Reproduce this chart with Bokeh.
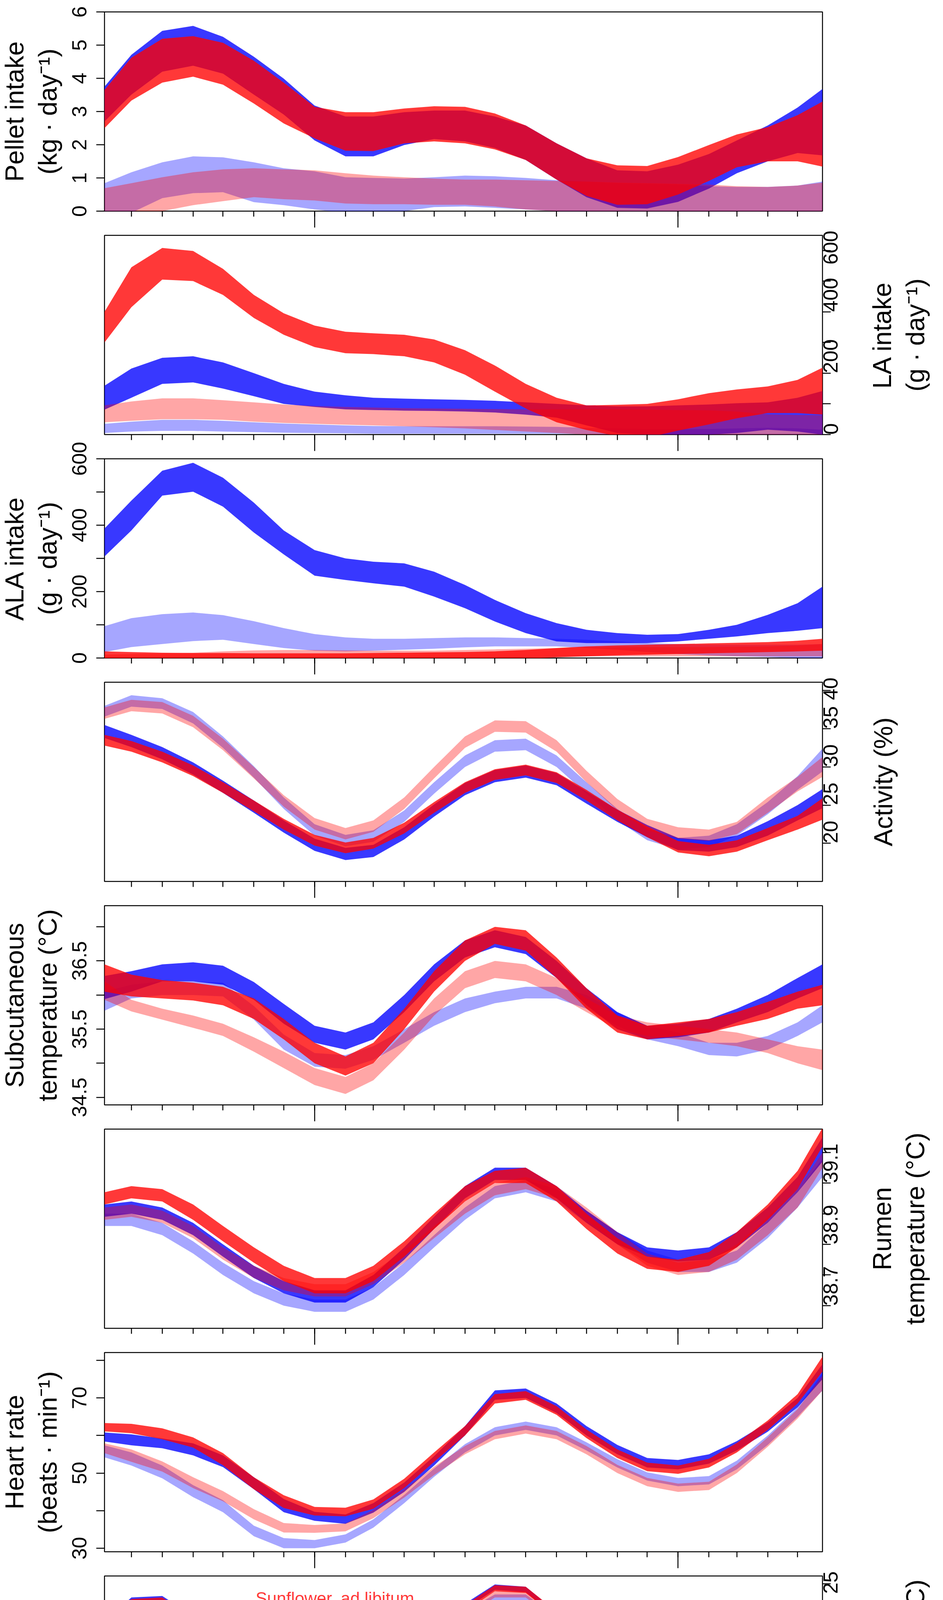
import math
import pandas as pd
from bokeh.plotting import figure
from bokeh.layouts import column, row
from bokeh.models import FixedTicker, LinearAxis, Range1d, Label
from bokeh.core.properties import value
from bokeh.embed import file_html
from bokeh.resources import INLINE

# ---------------------------------------------------------------- data
DATES = ["2017-06-04", "2017-07-01", "2017-08-01", "2017-09-01", "2017-10-01",
         "2017-11-01", "2017-12-01", "2018-01-01", "2018-02-01", "2018-03-01",
         "2018-04-01", "2018-05-01", "2018-06-01", "2018-07-01", "2018-08-01",
         "2018-09-01", "2018-10-01", "2018-11-01", "2018-12-01", "2019-01-01",
         "2019-02-01", "2019-03-01", "2019-04-01", "2019-05-01", "2019-05-26"]
X_START = "2017-06-04"
X_END = "2019-05-26"
MONTH_NAMES = ["Jun", "Jul", "Aug", "Sep", "Oct", "Nov", "Dec", "Jan", "Feb", "Mar", "Apr", "May",
               "Jun", "Jul", "Aug", "Sep", "Oct", "Nov", "Dec", "Jan", "Feb", "Mar", "Apr", "May"]
YEAR_LABELS = ["2017", "2018", "2019"]
YEAR_LABEL_DATES = ["2017-09-01", "2018-06-29", "2019-03-26"]
LEGEND_LABELS = ["Sunflower, ad libitum", "Sunflower, restricted",
                 "Linseed, ad libitum,", "Linseed, restricted"]

# Pellet intake (kg/day)
PEL_LIN_AD_LO = [2.70, 3.51, 4.20, 4.38, 4.14, 3.51, 2.91, 2.13, 1.65, 1.65, 1.99, 2.17, 2.10, 1.90, 1.54, 0.95, 0.42, 0.10, 0.08, 0.28, 0.68, 1.14, 1.50, 1.75, 1.68]
PEL_LIN_AD_HI = [3.75, 4.71, 5.43, 5.58, 5.25, 4.65, 3.99, 3.18, 2.85, 2.85, 2.98, 3.03, 3.03, 2.85, 2.58, 2.04, 1.59, 1.23, 1.20, 1.40, 1.72, 2.13, 2.58, 3.12, 3.68]
PEL_SUN_AD_LO = [2.50, 3.33, 3.87, 4.05, 3.81, 3.24, 2.64, 2.19, 1.82, 1.81, 2.04, 2.10, 2.04, 1.86, 1.54, 0.95, 0.46, 0.19, 0.21, 0.50, 0.91, 1.32, 1.50, 1.50, 1.34]
PEL_SUN_AD_HI = [3.65, 4.62, 5.19, 5.27, 5.07, 4.53, 3.87, 3.14, 2.98, 2.98, 3.09, 3.16, 3.14, 2.94, 2.58, 2.04, 1.59, 1.38, 1.36, 1.63, 1.99, 2.31, 2.53, 2.89, 3.30]
PEL_LIN_RE_LO = [-0.30, -0.05, 0.39, 0.54, 0.57, 0.27, 0.18, 0.05, -0.05, -0.05, 0.00, 0.12, 0.14, 0.10, 0.05, 0.00, -0.04, -0.10, -0.15, -0.15, -0.15, -0.15, -0.15, -0.15, -0.20]
PEL_LIN_RE_HI = [0.84, 1.17, 1.47, 1.65, 1.62, 1.47, 1.29, 1.20, 1.02, 1.00, 0.98, 1.02, 1.07, 1.05, 1.00, 0.93, 0.89, 0.84, 0.82, 0.80, 0.75, 0.73, 0.73, 0.77, 0.89]
PEL_SUN_RE_LO = [-0.50, -0.20, 0.00, 0.18, 0.30, 0.42, 0.36, 0.32, 0.23, 0.21, 0.21, 0.19, 0.19, 0.14, 0.05, 0.00, 0.00, -0.05, -0.10, -0.10, -0.10, -0.10, -0.10, -0.10, -0.10]
PEL_SUN_RE_HI = [0.69, 0.84, 1.02, 1.17, 1.26, 1.29, 1.26, 1.23, 1.14, 1.07, 1.02, 0.98, 0.95, 0.95, 0.93, 0.91, 0.89, 0.86, 0.84, 0.82, 0.80, 0.75, 0.73, 0.77, 0.86]

# LA intake (g/day)
LA_LIN_AD_LO = [81, 120, 165, 170, 150, 125, 100, 90, 82, 80, 78, 77, 75, 72, 65, 55, 30, 5, 0, 0, 0, 5, 16, 10, 0]
LA_LIN_AD_HI = [159, 215, 250, 255, 235, 200, 165, 140, 128, 120, 117, 115, 113, 110, 105, 100, 95, 92, 92, 95, 98, 102, 105, 120, 142]
LA_SUN_AD_LO = [300, 415, 505, 500, 455, 380, 325, 285, 265, 262, 255, 235, 195, 140, 85, 40, 15, -5, -10, 13, 33, 53, 70, 70, 65]
LA_SUN_AD_HI = [400, 545, 608, 598, 540, 455, 395, 355, 335, 330, 325, 310, 275, 225, 165, 120, 95, 97, 100, 115, 135, 147, 157, 178, 218]
LA_LIN_RE_LO = [5, 10, 12, 12, 10, 8, 6, 5, 4, 3, 3, 3, 3, 3, 3, 3, 2, 0, -5, -5, -5, -5, -5, -5, -5]
LA_LIN_RE_HI = [35, 42, 48, 48, 45, 40, 36, 33, 30, 28, 27, 27, 27, 27, 26, 25, 22, 20, 18, 18, 18, 20, 22, 20, 16]
LA_SUN_RE_LO = [40, 45, 50, 50, 48, 42, 38, 35, 32, 30, 27, 24, 20, 15, 10, 5, 0, -5, -5, -5, -5, -5, -5, -5, -5]
LA_SUN_RE_HI = [95, 108, 118, 118, 112, 105, 98, 93, 90, 88, 86, 85, 84, 83, 82, 82, 82, 82, 81, 80, 79, 75, 66, 64, 63]

# ALA intake (g/day)
ALA_LIN_AD_LO = [306, 384, 489, 501, 456, 378, 312, 248, 235, 225, 215, 185, 150, 110, 75, 50, 45, 45, 45, 50, 58, 65, 75, 82, 90]
ALA_LIN_AD_HI = [390, 474, 564, 588, 543, 468, 384, 325, 300, 290, 285, 260, 220, 175, 135, 105, 85, 75, 70, 72, 85, 100, 130, 165, 215]
ALA_LIN_RE_LO = [18, 33, 42, 51, 55, 42, 30, 22, 20, 22, 25, 28, 32, 35, 35, 35, 30, 25, 18, 12, 8, 5, 3, 0, -5]
ALA_LIN_RE_HI = [96, 120, 132, 137, 129, 111, 90, 72, 62, 58, 58, 60, 62, 62, 60, 58, 55, 50, 45, 42, 40, 40, 40, 40, 42]
ALA_SUN_RE_LO = [-5, -5, -5, -5, -5, -5, -5, -5, -5, -5, -5, -5, -3, 0, 2, 4, 5, 5, 5, 5, 5, 5, 5, 5, 5]
ALA_SUN_RE_HI = [10, 12, 14, 16, 20, 23, 24, 24, 23, 22, 22, 22, 24, 26, 28, 30, 32, 33, 33, 33, 33, 34, 35, 38, 42]
ALA_SUN_AD_LO = [-5, -5, -5, -5, -5, -5, -5, -5, -5, -5, -5, -5, -5, -5, -3, 2, 5, 8, 10, 12, 14, 16, 18, 20, 22]
ALA_SUN_AD_HI = [20, 18, 16, 15, 15, 14, 14, 14, 14, 15, 16, 17, 18, 20, 24, 30, 35, 38, 40, 42, 44, 46, 48, 52, 58]

# Activity (%)
ACT_LIN_AD_LO = [33.8, 32.6, 31.0, 29.0, 26.6, 24.0, 21.4, 19.0, 17.8, 18.2, 20.5, 23.5, 26.3, 28.0, 28.6, 27.6, 25.2, 22.8, 20.8, 19.1, 18.9, 19.5, 21.0, 23.0, 24.6]
ACT_LIN_AD_HI = [35.5, 34.2, 32.6, 30.6, 28.2, 25.6, 23.0, 20.6, 19.4, 19.8, 22.1, 25.1, 27.9, 29.6, 30.2, 29.2, 26.8, 24.4, 22.4, 20.7, 20.4, 21.0, 22.9, 25.0, 27.1]
ACT_LIN_RE_LO = [36.6, 37.9, 37.6, 35.7, 32.5, 28.6, 24.5, 21.0, 19.6, 20.2, 22.8, 26.5, 30.0, 32.0, 32.2, 30.0, 26.5, 23.0, 20.4, 19.2, 19.5, 21.0, 23.8, 27.0, 29.4]
ACT_LIN_RE_HI = [38.0, 39.4, 39.0, 37.2, 34.0, 30.1, 26.0, 22.5, 21.1, 21.7, 24.3, 28.0, 31.5, 33.5, 33.7, 31.5, 28.0, 24.5, 21.9, 20.7, 21.0, 22.5, 25.4, 28.8, 32.4]
ACT_SUN_RE_LO = [36.3, 37.3, 37.0, 35.2, 32.2, 28.5, 24.8, 21.8, 20.5, 21.5, 24.5, 28.5, 32.5, 34.6, 34.5, 32.0, 28.0, 24.3, 21.7, 20.6, 20.3, 21.2, 24.0, 26.8, 28.7]
ACT_SUN_RE_HI = [37.8, 38.8, 38.5, 36.7, 33.7, 30.0, 26.3, 23.3, 22.0, 23.0, 26.0, 30.0, 34.0, 36.1, 36.0, 33.5, 29.5, 25.8, 23.2, 22.1, 21.8, 22.8, 26.0, 28.7, 31.3]
ACT_SUN_AD_LO = [32.8, 32.0, 30.6, 28.8, 26.6, 24.2, 21.8, 19.7, 18.7, 19.3, 21.3, 24.0, 26.6, 28.3, 28.9, 27.9, 25.6, 23.0, 20.8, 18.8, 18.3, 18.9, 20.4, 21.8, 23.1]
ACT_SUN_AD_HI = [34.2, 33.4, 32.0, 30.2, 28.0, 25.6, 23.2, 21.1, 20.1, 20.7, 22.7, 25.4, 28.0, 29.7, 30.3, 29.3, 27.0, 24.4, 22.2, 20.3, 19.8, 20.4, 22.0, 23.6, 25.9]

# Subcutaneous temperature (degC)
SUB_LIN_AD_LO = [35.94, 36.05, 36.20, 36.20, 36.15, 35.93, 35.58, 35.30, 35.20, 35.35, 35.75, 36.20, 36.55, 36.70, 36.60, 36.25, 35.85, 35.50, 35.35, 35.38, 35.45, 35.60, 35.75, 35.95, 36.10]
SUB_LIN_AD_HI = [36.28, 36.35, 36.45, 36.48, 36.43, 36.19, 35.87, 35.55, 35.45, 35.60, 36.00, 36.45, 36.80, 36.95, 36.85, 36.50, 36.10, 35.75, 35.55, 35.58, 35.65, 35.80, 36.00, 36.25, 36.45]
SUB_LIN_RE_LO = [35.77, 35.95, 36.00, 36.00, 35.98, 35.64, 35.20, 34.95, 34.92, 35.05, 35.30, 35.55, 35.75, 35.88, 35.95, 35.95, 35.80, 35.55, 35.35, 35.25, 35.12, 35.10, 35.20, 35.40, 35.60]
SUB_LIN_RE_HI = [36.05, 36.15, 36.20, 36.20, 36.18, 35.84, 35.42, 35.15, 35.12, 35.25, 35.50, 35.75, 35.95, 36.05, 36.12, 36.12, 36.00, 35.75, 35.55, 35.45, 35.30, 35.30, 35.40, 35.60, 35.85]
SUB_SUN_RE_LO = [35.93, 35.76, 35.64, 35.52, 35.40, 35.17, 34.93, 34.68, 34.55, 34.75, 35.20, 35.70, 36.10, 36.25, 36.20, 36.00, 35.75, 35.50, 35.40, 35.35, 35.30, 35.25, 35.15, 35.00, 34.90]
SUB_SUN_RE_HI = [36.20, 35.93, 35.80, 35.70, 35.58, 35.38, 35.17, 34.93, 34.80, 35.00, 35.45, 35.95, 36.35, 36.50, 36.45, 36.25, 35.95, 35.70, 35.60, 35.55, 35.50, 35.45, 35.35, 35.25, 35.20]
SUB_SUN_AD_LO = [36.05, 35.98, 35.95, 35.92, 35.85, 35.65, 35.35, 35.00, 34.82, 35.00, 35.50, 36.05, 36.50, 36.75, 36.65, 36.25, 35.80, 35.45, 35.35, 35.40, 35.45, 35.55, 35.65, 35.80, 35.85]
SUB_SUN_AD_HI = [36.45, 36.30, 36.22, 36.18, 36.12, 35.95, 35.65, 35.30, 35.10, 35.30, 35.80, 36.35, 36.80, 37.00, 36.95, 36.55, 36.10, 35.70, 35.55, 35.60, 35.65, 35.75, 35.90, 36.05, 36.15]

# Rumen temperature (degC)
RUM_LIN_AD_LO = [38.99, 39.00, 38.98, 38.93, 38.86, 38.79, 38.74, 38.71, 38.71, 38.76, 38.85, 38.95, 39.05, 39.11, 39.11, 39.05, 38.97, 38.90, 38.86, 38.845, 38.85, 38.89, 38.97, 39.07, 39.17]
RUM_LIN_AD_HI = [39.03, 39.04, 39.02, 38.97, 38.90, 38.83, 38.78, 38.75, 38.75, 38.80, 38.89, 38.99, 39.09, 39.15, 39.15, 39.09, 39.01, 38.94, 38.89, 38.88, 38.89, 38.94, 39.02, 39.12, 39.25]
RUM_LIN_RE_LO = [38.96, 38.96, 38.93, 38.87, 38.80, 38.74, 38.70, 38.68, 38.68, 38.72, 38.80, 38.89, 38.98, 39.05, 39.07, 39.04, 38.97, 38.90, 38.84, 38.81, 38.81, 38.84, 38.92, 39.02, 39.12]
RUM_LIN_RE_HI = [39.00, 39.00, 38.97, 38.91, 38.84, 38.78, 38.74, 38.72, 38.72, 38.76, 38.84, 38.93, 39.02, 39.09, 39.11, 39.08, 39.01, 38.94, 38.88, 38.85, 38.85, 38.88, 38.97, 39.07, 39.18]
RUM_SUN_RE_LO = [38.98, 38.99, 38.97, 38.92, 38.85, 38.79, 38.75, 38.73, 38.73, 38.77, 38.84, 38.92, 39.00, 39.06, 39.08, 39.05, 38.98, 38.90, 38.83, 38.80, 38.81, 38.85, 38.93, 39.02, 39.15]
RUM_SUN_RE_HI = [39.02, 39.03, 39.01, 38.96, 38.89, 38.83, 38.79, 38.77, 38.77, 38.81, 38.88, 38.96, 39.04, 39.10, 39.12, 39.09, 39.02, 38.94, 38.87, 38.84, 38.85, 38.90, 38.99, 39.08, 39.20]
RUM_SUN_AD_LO = [39.03, 39.05, 39.04, 38.98, 38.91, 38.84, 38.78, 38.74, 38.74, 38.78, 38.86, 38.95, 39.04, 39.10, 39.10, 39.04, 38.95, 38.87, 38.82, 38.81, 38.83, 38.89, 38.98, 39.08, 39.22]
RUM_SUN_AD_HI = [39.07, 39.09, 39.08, 39.03, 38.96, 38.89, 38.83, 38.79, 38.79, 38.83, 38.91, 39.00, 39.09, 39.14, 39.15, 39.09, 39.00, 38.92, 38.86, 38.85, 38.875, 38.94, 39.03, 39.14, 39.28]

# Heart rate (beats/min)
HR_LIN_AD_LO = [58.4, 57.4, 56.6, 54.7, 51.6, 45.7, 39.6, 37.3, 36.5, 39.5, 45.0, 52.0, 60.0, 69.5, 70.0, 66.0, 60.0, 55.0, 51.5, 51.0, 52.5, 56.0, 61.0, 67.5, 75.0]
HR_LIN_AD_HI = [60.8, 60.3, 59.2, 57.9, 54.7, 48.9, 43.1, 39.7, 39.0, 42.0, 47.5, 54.5, 62.5, 72.0, 72.5, 68.5, 62.5, 57.5, 54.0, 53.5, 55.0, 58.5, 63.5, 70.0, 79.0]
HR_LIN_RE_LO = [54.2, 52.0, 48.6, 43.6, 39.6, 33.2, 30.0, 30.0, 31.5, 35.5, 42.0, 49.0, 55.5, 60.0, 61.5, 60.0, 56.0, 51.5, 48.0, 46.5, 47.0, 51.0, 57.5, 65.0, 72.0]
HR_LIN_RE_HI = [57.4, 55.5, 52.0, 46.8, 42.8, 36.0, 32.7, 32.2, 33.7, 37.7, 44.2, 51.2, 57.7, 62.2, 63.7, 62.2, 58.2, 53.7, 50.2, 48.7, 49.2, 53.3, 60.0, 67.5, 76.5]
HR_SUN_RE_LO = [55.3, 53.0, 50.4, 46.0, 42.5, 37.7, 34.2, 34.1, 34.5, 38.0, 43.5, 49.5, 55.0, 59.0, 60.5, 59.0, 55.0, 50.0, 46.5, 45.0, 45.5, 50.0, 57.0, 64.5, 72.0]
HR_SUN_RE_HI = [57.9, 56.3, 53.1, 48.9, 45.2, 40.4, 36.7, 36.2, 36.6, 40.2, 45.7, 51.7, 57.2, 61.2, 62.7, 61.2, 57.2, 52.2, 48.7, 47.2, 47.7, 52.3, 59.5, 67.0, 76.0]
HR_SUN_AD_LO = [61.1, 60.6, 59.0, 56.8, 52.1, 45.7, 40.7, 38.7, 38.5, 40.5, 46.0, 53.0, 60.0, 68.5, 69.5, 65.5, 59.3, 54.0, 50.5, 49.8, 51.5, 55.5, 61.5, 68.5, 77.0]
HR_SUN_AD_HI = [63.3, 63.1, 61.9, 59.5, 55.3, 48.9, 44.1, 41.0, 40.8, 43.0, 48.5, 55.5, 62.5, 71.0, 71.8, 67.8, 61.6, 56.3, 52.8, 52.0, 53.8, 58.0, 64.0, 71.0, 81.0]

# Collar temperature (degC)
COL_LIN_AD_LO = [19.5, 22.5, 22.7, 20.1, 15.3, 9.8, 5.2, 2.6, 2.8, 5.8, 10.9, 16.7, 21.7, 24.2, 23.9, 20.6, 15.5, 10.2, 5.8, 3.8, 4.3, 6.8, 10.6, 14.8, 17.8]
COL_LIN_AD_HI = [20.1, 23.2, 23.4, 20.8, 16.0, 10.5, 5.9, 3.2, 3.4, 6.5, 11.6, 17.4, 22.4, 24.9, 24.6, 21.3, 16.2, 10.9, 6.5, 4.5, 5.0, 7.4, 11.2, 15.5, 18.5]
COL_LIN_RE_LO = [18.5, 21.6, 21.8, 19.2, 14.4, 9.1, 4.6, 2.2, 2.4, 5.3, 10.1, 15.6, 20.6, 22.8, 22.8, 19.9, 15.0, 9.9, 5.5, 3.4, 3.8, 6.2, 10.0, 14.3, 17.4]
COL_LIN_RE_HI = [19.3, 22.4, 22.6, 20.0, 15.2, 9.9, 5.4, 3.0, 3.2, 6.1, 10.9, 16.4, 21.4, 23.6, 23.6, 20.7, 15.8, 10.7, 6.3, 4.2, 4.6, 7.0, 10.8, 15.1, 18.2]
COL_SUN_RE_LO = [18.9, 21.8, 22.0, 19.4, 14.6, 9.2, 4.7, 2.0, 2.3, 5.3, 10.2, 15.8, 20.8, 23.2, 23.2, 20.3, 15.5, 10.5, 6.1, 4.0, 4.3, 6.7, 10.5, 14.8, 17.8]
COL_SUN_RE_HI = [19.6, 22.6, 22.8, 20.2, 15.4, 10.0, 5.5, 2.8, 3.1, 6.1, 11.0, 16.6, 21.6, 24.0, 24.0, 21.1, 16.3, 11.3, 6.9, 4.8, 5.1, 7.5, 11.3, 15.6, 18.6]
COL_SUN_AD_LO = [19.2, 22.2, 22.4, 19.8, 15.0, 9.6, 5.1, 2.5, 2.6, 5.6, 10.6, 16.4, 21.4, 24.0, 23.8, 20.6, 15.6, 10.4, 6.0, 4.2, 4.6, 7.0, 10.7, 15.0, 18.1]
COL_SUN_AD_HI = [20.0, 23.0, 23.2, 20.6, 15.8, 10.4, 5.9, 3.3, 3.4, 6.4, 11.4, 17.2, 22.2, 24.8, 24.6, 21.4, 16.4, 11.2, 6.8, 4.9, 5.2, 7.5, 11.3, 15.6, 18.7]

# ---------------------------------------------------------------- helpers
ORIGIN = pd.Timestamp("2017-06-01")


def dnum(s):
    return int((pd.Timestamp(s) - ORIGIN).days)


X = [dnum(d) for d in DATES]
X0, X1 = dnum(X_START), dnum(X_END)
month_starts = pd.date_range("2017-07-01", "2019-05-01", freq="MS")
MINOR = [dnum(m) for m in month_starts]
JAN = [dnum(m) for m in month_starts if m.month == 1]
edges = [X0] + MINOR + [X1]
MID = [int(round((a + b) / 2)) for a, b in zip(edges[:-1], edges[1:])]
YEAR_X = [dnum(d) for d in YEAR_LABEL_DATES]

FONT = "Liberation Sans"
PAGE_L, PAGE_R = 8, 2404            # drawable page span (8 px margin)
FRAME_L, FRAME_R = 275, 2113        # page x of the plot frame
FRAME_H = 510
LSTRIP_R = 250                      # left column (titles + tick labels) ends here
RSTRIP_L = 2215                     # right column (titles) starts here
PX_PER_DAY = (FRAME_R - FRAME_L) / (X1 - X0)
LW = 2.5
SERIES_STYLE = [  # drawing order: linseed ad lib, linseed restr., sunflower restr., sunflower ad lib
    ("LIN_AD", "#0000ff", 0.78),
    ("LIN_RE", "#0000ff", 0.35),
    ("SUN_RE", "#ff0000", 0.35),
    ("SUN_AD", "#ff0000", 0.78),
]
xr = Range1d(X0, X1)


def page_x_to_day(px):
    return X0 + (px - FRAME_L) / PX_PER_DAY


def fmt(v):
    return f"{v:g}"


def strip_fig(x_lo, x_hi, yr, frame_offset, height):
    """Border-less figure whose frame is its whole box; its y scale matches a panel whose
    frame top lies frame_offset px below the strip's top."""
    upp = (yr[1] - yr[0]) / FRAME_H
    y_top = yr[1] + frame_offset * upp
    s = figure(width=x_hi - x_lo, height=height,
               x_range=Range1d(x_lo, x_hi), y_range=Range1d(y_top - height * upp, y_top),
               output_backend="svg", toolbar_location=None, title=None,
               x_axis_location=None, y_axis_location=None, min_border=0)
    s.outline_line_color = None
    s.grid.visible = False
    return s


def rot_text(s, x, y, txt, size):
    s.text(x=[x], y=[y], text=[txt], angle=math.pi / 2, text_align="center",
           text_baseline="middle", text_font=value(FONT), text_font_size=size,
           text_color="black", text_line_height=1.0)


def make_main(prefix, yr, side, major, minor, top, bottom, extra=None):
    p = figure(width=RSTRIP_L - LSTRIP_R, height=top + FRAME_H + bottom, x_range=xr,
               y_range=Range1d(*yr), output_backend="svg", toolbar_location=None, title=None,
               x_axis_location=None, y_axis_location=None,
               min_border_left=FRAME_L - LSTRIP_R, min_border_right=RSTRIP_L - FRAME_R,
               min_border_top=top, min_border_bottom=bottom)
    p.outline_line_color = "black"
    p.outline_line_width = LW
    p.outline_line_alpha = 1.0
    p.grid.visible = False
    g = globals()
    for key, col, alpha in SERIES_STYLE:
        p.varea(x=X, y1=g[f"{prefix}_{key}_LO"], y2=g[f"{prefix}_{key}_HI"],
                fill_color=col, fill_alpha=alpha)
    xa = LinearAxis(ticker=FixedTicker(ticks=JAN, minor_ticks=MINOR),
                    major_tick_out=42, major_tick_in=0, minor_tick_out=14, minor_tick_in=0,
                    major_tick_line_width=LW, minor_tick_line_width=LW,
                    axis_line_color=None, major_label_text_font_size="1px",
                    major_label_text_color=None, major_label_standoff=0)
    p.add_layout(xa, "below")
    ya = LinearAxis(ticker=FixedTicker(ticks=major, minor_ticks=minor),
                    axis_line_color=None,
                    major_tick_out=21, major_tick_in=0, minor_tick_out=21, minor_tick_in=0,
                    major_tick_line_width=LW, minor_tick_line_width=LW,
                    major_label_orientation=math.pi / 2, major_label_text_font=FONT,
                    major_label_text_font_size="52px" if side == "right" else "1px",
                    major_label_text_color="black" if side == "right" else None,
                    major_label_standoff=0)
    p.add_layout(ya, side)
    if extra is not None:
        extra(p)
    return p


def right_strip(yr, lines, frame_offset, height):
    s = strip_fig(RSTRIP_L, PAGE_R, yr, frame_offset, height)
    xs = [2268] if len(lines) == 1 else [2265, 2350]
    for txt, px in zip(lines, xs):
        rot_text(s, px, (yr[0] + yr[1]) / 2, txt, "66px")
    return s


def left_strip(yr, major, lines, frame_offset, height):
    s = strip_fig(PAGE_L, LSTRIP_R, yr, frame_offset, height)
    for v in major:
        rot_text(s, 210, v, fmt(v), "52px")
    for txt, px in zip(lines, [44, 129]):
        rot_text(s, px, (yr[0] + yr[1]) / 2, txt, "66px")
    return s


def collar_extras(p):
    ma = LinearAxis(ticker=FixedTicker(ticks=MID),
                    major_label_overrides={m: n for m, n in zip(MID, MONTH_NAMES)},
                    major_tick_out=0, major_tick_in=0, minor_tick_out=0, minor_tick_in=0,
                    axis_line_color=None, major_tick_line_color=None, minor_tick_line_color=None,
                    major_label_orientation=math.pi / 2, major_label_text_font=FONT,
                    major_label_text_font_size="51px", major_label_text_color="black",
                    major_label_standoff=2)
    p.add_layout(ma, "below")
    yax = LinearAxis(ticker=FixedTicker(ticks=YEAR_X),
                     major_label_overrides={m: n for m, n in zip(YEAR_X, YEAR_LABELS)},
                     major_tick_out=0, major_tick_in=0, minor_tick_out=0, minor_tick_in=0,
                     axis_line_color=None, major_tick_line_color=None, minor_tick_line_color=None,
                     major_label_text_font=FONT, major_label_text_font_size="62px",
                     major_label_text_color="black", major_label_standoff=25)
    p.add_layout(yax, "below")
    legend_colors = [("#ff0000", 0.78), ("#ff0000", 0.35), ("#0000ff", 0.78), ("#0000ff", 0.35)]
    leg_x = page_x_to_day(662)
    for i, (txt, (c, a)) in enumerate(zip(LEGEND_LABELS, legend_colors)):
        p.add_layout(Label(x=leg_x, y=23.12 - i * 2.66, text=txt, text_color=c, text_alpha=a,
                           text_font=FONT, text_font_size="44px", text_baseline="middle",
                           text_align="left"))


# y ranges, labelled ticks
YR_PEL, YR_LA, YR_ALA, YR_ACT = (0, 6), (0, 649), (0, 600), (15.0, 41.1)
YR_SUB, YR_RUM, YR_HR, YR_COL = (34.39, 37.31), (38.626, 39.276), (29.07, 82.07), (0.08, 26.0)
TK_PEL, TK_LA, TK_ALA, TK_ACT = [0, 1, 2, 3, 4, 5, 6], [0, 200, 400, 600], [0, 200, 400, 600], [20, 25, 30, 35, 40]
TK_SUB, TK_RUM, TK_HR, TK_COL = [34.5, 35.5, 36.5], [38.7, 38.9, 39.1], [30, 50, 70], [5, 10, 15, 20, 25]

H1, HM, HL = 30 + FRAME_H + 50, 12 + FRAME_H + 50, 12 + FRAME_H + 226

main_col = column(
    make_main("PEL", YR_PEL, "left", TK_PEL, [], 30, 50),
    make_main("LA", YR_LA, "right", TK_LA, [100, 300, 500], 12, 50),
    make_main("ALA", YR_ALA, "left", TK_ALA, [100, 300, 500], 12, 50),
    make_main("ACT", YR_ACT, "right", TK_ACT, [], 12, 50),
    make_main("SUB", YR_SUB, "left", TK_SUB, [35, 36, 37], 12, 50),
    make_main("RUM", YR_RUM, "right", TK_RUM, [38.8, 39.0, 39.2], 12, 50),
    make_main("HR", YR_HR, "left", TK_HR, [40, 60, 80], 12, 50),
    make_main("COL", YR_COL, "right", TK_COL, [], 12, 226, extra=collar_extras),
    spacing=0)

left_col = column(
    left_strip(YR_PEL, TK_PEL, ["Pellet intake", "(kg · day⁻¹)"], 30, H1),
    left_strip(YR_ALA, TK_ALA, ["ALA intake", "(g · day⁻¹)"], HM + 12, 2 * HM),
    left_strip(YR_SUB, TK_SUB, ["Subcutaneous", "temperature (°C)"], HM + 12, 2 * HM),
    left_strip(YR_HR, TK_HR, ["Heart rate", "(beats · min⁻¹)"], HM + 12, HM + HL),
    spacing=0)

right_col = column(
    right_strip(YR_LA, ["LA intake", "(g · day⁻¹)"], H1 + 12, H1 + HM),
    right_strip(YR_ACT, ["Activity (%)"], HM + 12, 2 * HM),
    right_strip(YR_RUM, ["Rumen", "temperature (°C)"], HM + 12, 2 * HM),
    right_strip(YR_COL, ["Collar", "temperature (°C)"], HM + 12, HM + HL),
    spacing=0)

layout = row(left_col, main_col, right_col, spacing=0)
open("out.html", "w").write(file_html(layout, INLINE))
